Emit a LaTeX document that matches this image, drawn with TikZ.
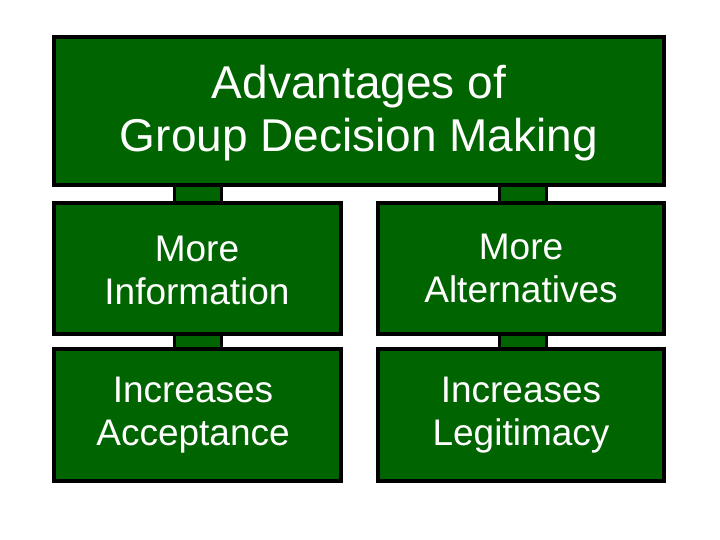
\documentclass[tikz,border=0pt]{standalone}
\usepackage{fontspec}
\setmainfont{Liberation Sans}
\definecolor{bg}{HTML}{006400}
\begin{document}
\begin{tikzpicture}[x=1pt,y=-1pt,
  box/.style={draw=black,line width=4pt,fill=bg,text=white,align=center},
  conn/.style={draw=black,line width=3pt,fill=bg},
  big/.style={font=\fontsize{46}{53}\selectfont,text=white,align=center},
  small/.style={font=\fontsize{37}{43}\selectfont,text=white,align=center}]
\useasboundingbox (0,0) rectangle (720,540);
\fill[conn] (174,180) rectangle (221,206);
\fill[conn] (499,180) rectangle (546,206);
\fill[conn] (174,330) rectangle (221,350);
\fill[conn] (499,330) rectangle (546,350);
\path[box] (54,37) rectangle (664,185);
\node[big] (t) at (359,113) {Advantages of\\Group Decision Making};
\path[box] (54,203) rectangle (341,334);
\node[small] (a) at (197,270) {More\\Information};
\path[box] (378,203) rectangle (664,334);
\node[small] (b) at (521,268) {More\\Alternatives};
\path[box] (54,349) rectangle (341,481);
\node[small] (c) at (193,415) {Increases\\Acceptance};
\path[box] (378,349) rectangle (664,481);
\node[small] (d) at (521,415) {Increases\\Legitimacy};
\end{tikzpicture}
\end{document}
